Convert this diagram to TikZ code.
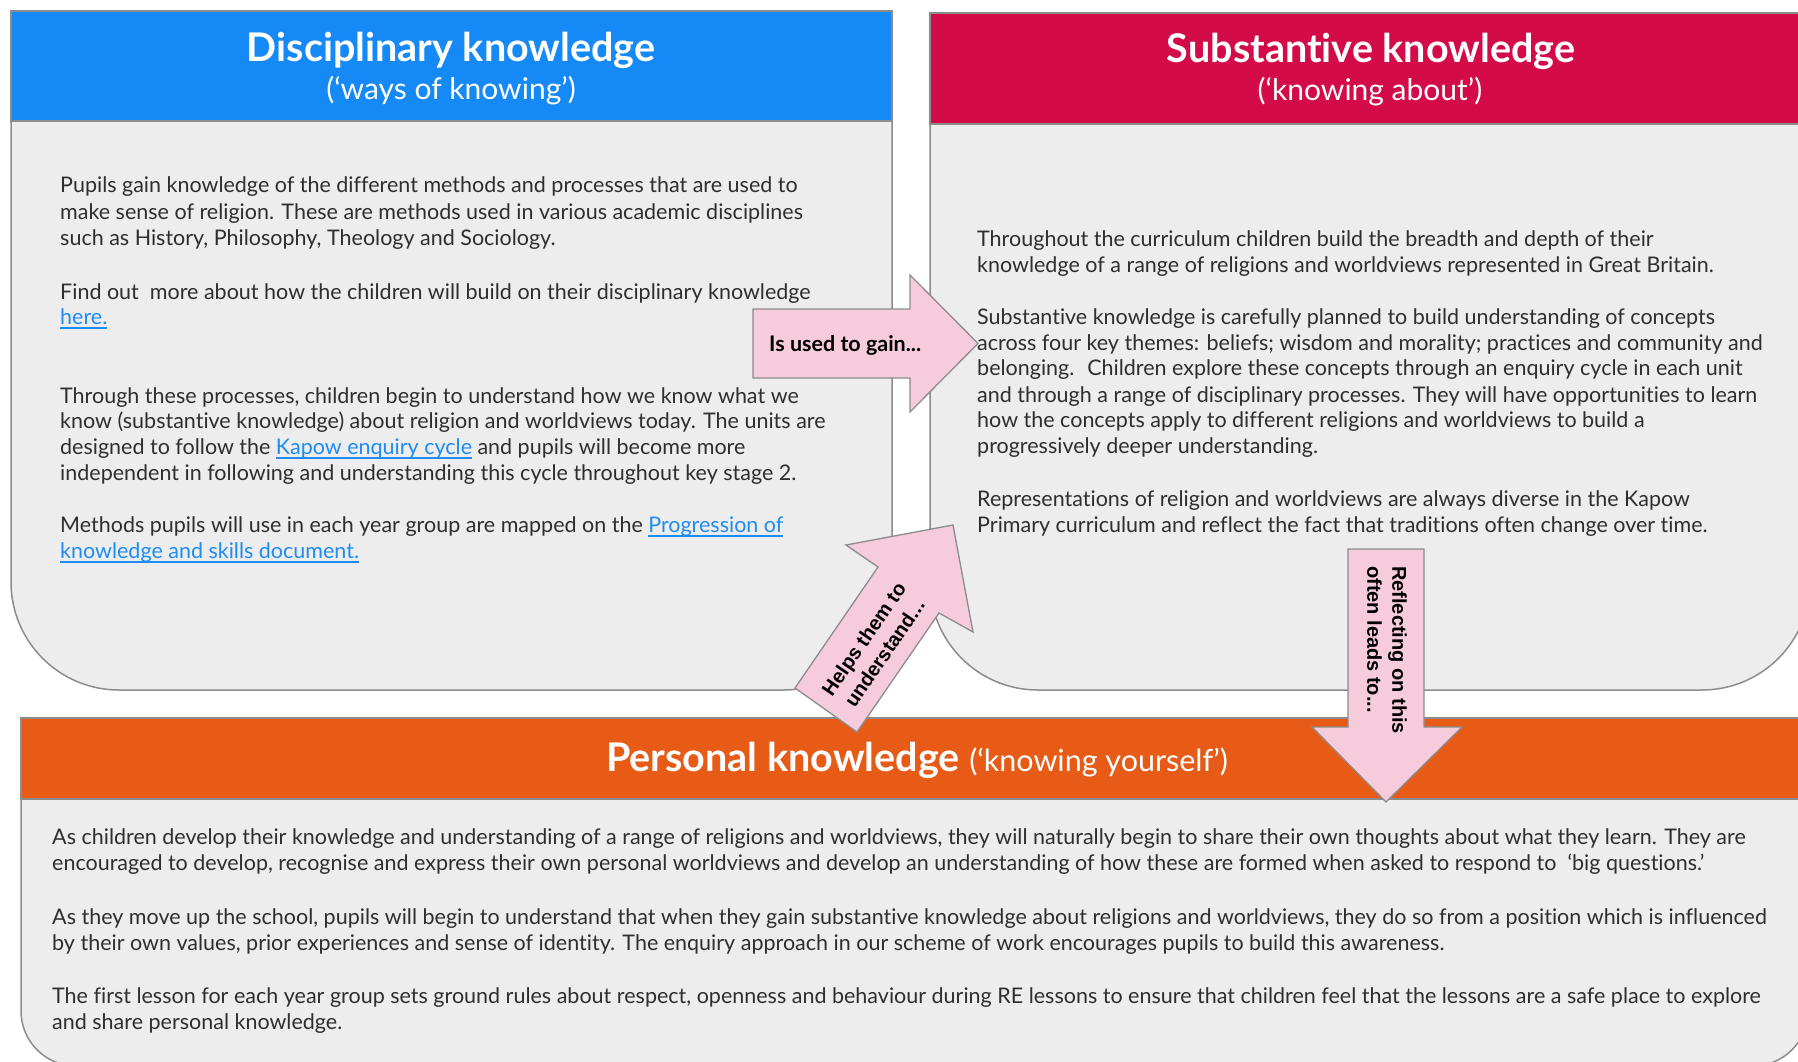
\documentclass[tikz,border=0pt]{standalone}
\usepackage{fontspec}
\setmainfont{Lato}[Ligatures={NoCommon}]
\newfontfamily\arrfont{Liberation Sans}
\definecolor{hdblue}{HTML}{1589F5}
\definecolor{hdred}{HTML}{D30B48}
\definecolor{hdorange}{HTML}{E85B17}
\definecolor{boxgray}{HTML}{EDEDED}
\definecolor{edgegray}{HTML}{8C8C8C}
\definecolor{pinkfill}{HTML}{F6CBDC}
\definecolor{txtgray}{HTML}{2E2E2E}
\definecolor{linkblue}{HTML}{1E8CF5}
\newsavebox\lnkbox
\newcommand\lnk[1]{\begingroup\sbox\lnkbox{\color{linkblue}#1}\color{linkblue}\rlap{\rule[-4.5pt]{\wd\lnkbox}{2pt}}\usebox\lnkbox\endgroup}
\tikzset{
  panel/.style={fill=boxgray, draw=edgegray, line width=1.5pt},
  headbar/.style={draw=edgegray, line width=1.5pt},
  pinkarrow/.style={fill=pinkfill, draw=edgegray, line width=1.3pt, line join=miter},
  titletxt/.style={text=white, font=\fontsize{39.5}{44}\selectfont\bfseries, inner sep=0pt, anchor=base},
  subtxt/.style={text=white, font=\fontsize{30}{33}\selectfont, inner sep=0pt, anchor=base},
  bodyln/.style={anchor=base west, inner sep=0pt, text=txtgray, font=\fontsize{21.5}{25}\selectfont},
  arrtxt/.style={inner sep=0pt, text=black, font=\arrfont\bfseries\fontsize{20}{25}\selectfont}
}
\begin{document}
\begin{tikzpicture}[x=1pt,y=-1pt]
\useasboundingbox (0,0) rectangle (1798,1062);
\clip (0,0) rectangle (1798,1062);
% left panel
\draw[panel] (11,11) -- (11,400) [rounded corners=108pt] -- (11,690) -- (892,690) -- (892,400) [sharp corners] -- (892,11) -- cycle;
\draw[headbar, fill=hdblue] (11,11) rectangle (892,121);
% right panel
\draw[panel] (930,13) -- (930,400) [rounded corners=108pt] -- (930,690) -- (1810,690) -- (1810,400) [sharp corners] -- (1810,13) -- cycle;
\draw[headbar, fill=hdred] (930,13) rectangle (1810,124);
% bottom panel
\draw[panel] (21,718) -- (21,900) [rounded corners=55pt] -- (21,1066) -- (1808,1066) -- (1808,900) [sharp corners] -- (1808,718) -- cycle;
\draw[headbar, fill=hdorange] (21,718) rectangle (1808,799);

% titles
\node[titletxt] (dtitle) at (451,62) {Disciplinary knowledge};
\node[subtxt] (dsub) at (451,100) {(‘ways of knowing’)};
\node[titletxt] (stitle) at (1371,63) {Substantive knowledge};
\node[subtxt] (ssub) at (1370,101) {(‘knowing about’)};
\node[anchor=base west, inner sep=0pt, text=white] (ptitle) at (606,771) {\fontsize{39.5}{44}\selectfont\bfseries Personal knowledge \fontsize{30.5}{33}\selectfont\mdseries(‘knowing yourself’)};

% left text
\node[bodyln] (l1) at (60,192.7) {Pupils gain knowledge of the different methods and processes that are used to};
\node[bodyln] (l2) at (60,219.2) {make sense of religion. These are methods used in various academic disciplines};
\node[bodyln] (l3) at (60,245.8) {such as History, Philosophy, Theology and Sociology.};
\node[bodyln] (l4) at (60,299.2) {Find out \ more about how the children will build on their disciplinary knowledge};
\node[bodyln] (l5) at (60,324.5) {\lnk{here.}};
\node[bodyln] (l6) at (60,403) {Through these processes, children begin to understand how we know what we};
\node[bodyln] (l7) at (60,428.7) {know (substantive knowledge) about religion and worldviews today. The units are};
\node[bodyln] (l8) at (60,454.7) {designed to follow the \lnk{Kapow enquiry cycle} and pupils will become more};
\node[bodyln] (l9) at (60,480) {independent in following and understanding this cycle throughout key stage 2.};
\node[bodyln] (l10) at (60,532.3) {Methods pupils will use in each year group are mapped on the \lnk{Progression of}};
\node[bodyln] (l11) at (60,558.3) {\lnk{knowledge and skills document.}};

% right text
\node[bodyln] (r1) at (977,246) {Throughout the curriculum children build the breadth and depth of their};
\node[bodyln] (r2) at (977,272) {knowledge of a range of religions and worldviews represented in Great Britain.};
\node[bodyln] (r3) at (977,324.5) {Substantive knowledge is carefully planned to build understanding of concepts};
\node[bodyln] (r4) at (977,350) {across four key themes: beliefs; wisdom and morality; practices and community and};
\node[bodyln] (r5) at (977,375.5) {belonging. \ Children explore these concepts through an enquiry cycle in each unit};
\node[bodyln] (r6) at (977,402) {and through a range of disciplinary processes. They will have opportunities to learn};
\node[bodyln] (r7) at (977,427.7) {how the concepts apply to different religions and worldviews to build a};
\node[bodyln] (r8) at (977,453.7) {progressively deeper understanding.};
\node[bodyln] (r9) at (977,506) {Representations of religion and worldviews are always diverse in the Kapow};
\node[bodyln] (r10) at (977,532.7) {Primary curriculum and reflect the fact that traditions often change over time.};

% bottom text
\node[bodyln] (b1) at (52,844.3) {As children develop their knowledge and understanding of a range of religions and worldviews, they will naturally begin to share their own thoughts about what they learn. They are};
\node[bodyln] (b2) at (52,870) {encouraged to develop, recognise and express their own personal worldviews and develop an understanding of how these are formed when asked to respond to \ ‘big questions.’};
\node[bodyln] (b3) at (52,924.3) {As they move up the school, pupils will begin to understand that when they gain substantive knowledge about religions and worldviews, they do so from a position which is influenced};
\node[bodyln] (b4) at (52,950) {by their own values, prior experiences and sense of identity. The enquiry approach in our scheme of work encourages pupils to build this awareness.};
\node[bodyln] (b5) at (52,1003.3) {The first lesson for each year group sets ground rules about respect, openness and behaviour during RE lessons to ensure that children feel that the lessons are a safe place to explore};
\node[bodyln] (b6) at (52,1029.3) {and share personal knowledge.};

% arrows
\draw[pinkarrow] (753,309) -- (910,309) -- (910,275) -- (978,343.5) -- (910,412) -- (910,378) -- (753,378) -- cycle;
\node[anchor=base west, inner sep=0pt, text=black, font=\fontsize{21.5}{24}\selectfont\bfseries] (gain) at (769,351) {Is used to gain...};

\draw[pinkarrow] (795,688) -- (878,567) -- (846,545) -- (953,525) -- (973,632) -- (939,613) -- (857,732) -- cycle;
\node[arrtxt, rotate=55.6, align=center] (helps) at (874,646) {Helps them to\\understand...};

\draw[pinkarrow] (1348,549) -- (1424,549) -- (1424,727) -- (1462,727) -- (1386,802) -- (1312,727) -- (1348,727) -- cycle;
\node[arrtxt, rotate=-90, align=left, anchor=west] (refl) at (1387,566) {Reflecting on this\\often leads to...};
\end{tikzpicture}
\end{document}
